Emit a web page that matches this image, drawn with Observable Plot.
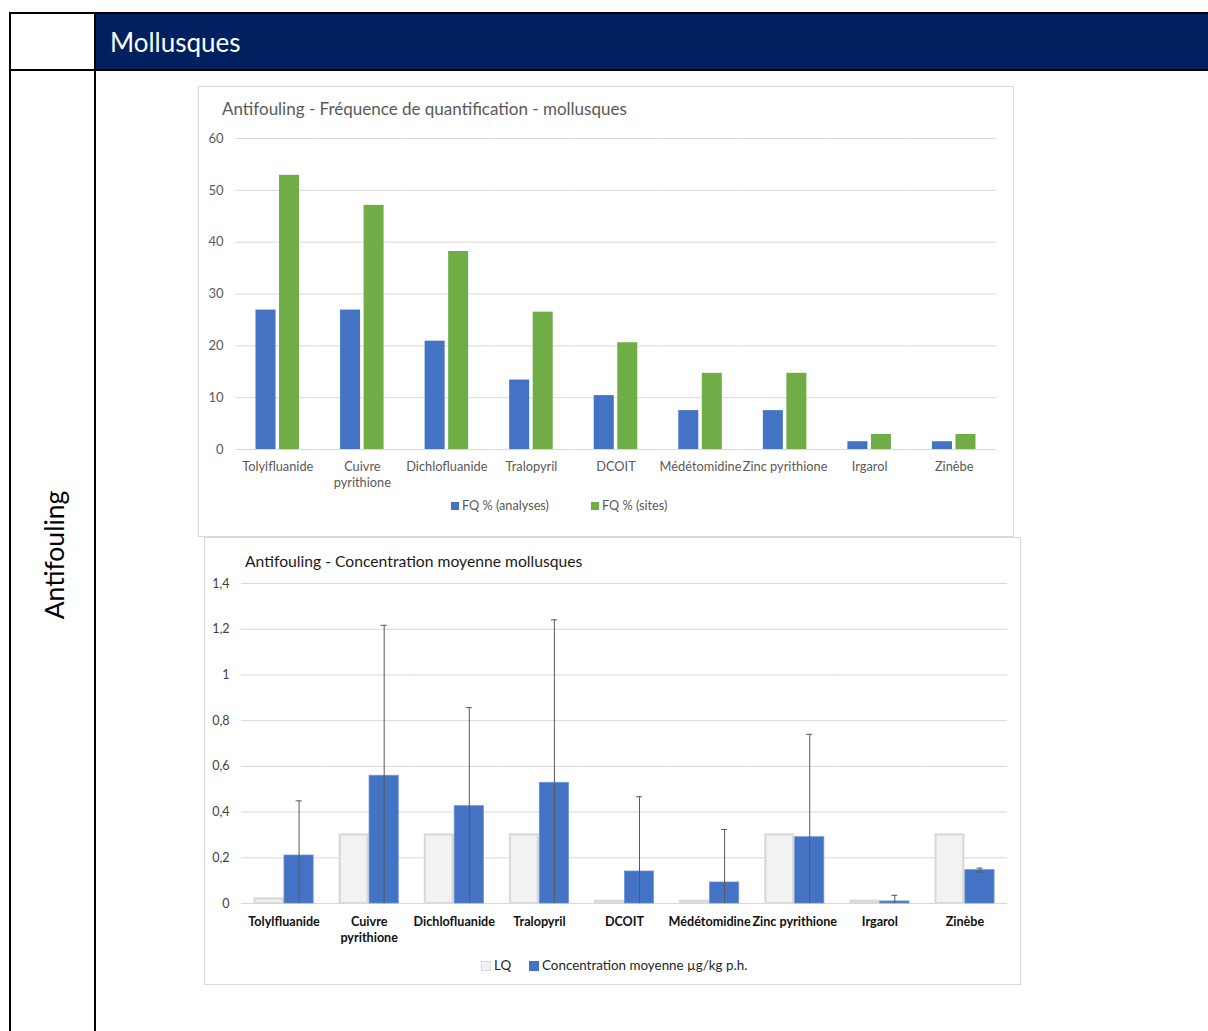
<!DOCTYPE html>
<html>
<head>
<meta charset="utf-8">
<script src="https://cdn.jsdelivr.net/npm/d3@7"></script>
<script src="https://cdn.jsdelivr.net/npm/@observablehq/plot@0.6"></script>
<style>
  html, body { margin: 0; padding: 0; background: #fff; }
  body { width: 1208px; height: 1031px; position: relative; overflow: hidden; font-family: Lato, "Open Sans", sans-serif; }
  .abs { position: absolute; }
  .line { position: absolute; background: #000; }
  .box { position: absolute; border: 1px solid #d9d9d9; box-sizing: border-box; background: #fff; }
  .title1 { position: absolute; left: 222px; top: 98px; font-size: 17px; color: #595959; white-space: nowrap; }
  .title2 { position: absolute; left: 245px; top: 552px; font-size: 15.7px; color: #1a1a1a; white-space: nowrap; }
  .leg { position: absolute; font-size: 12.7px; white-space: nowrap; line-height: 14px; }
  .sw { display: inline-block; width: 8px; height: 8px; margin-right: 3px; vertical-align: 0px; box-sizing: border-box; }
  svg { overflow: visible; }
</style>
</head>
<body>
<!-- table structure -->
<div class="abs" style="left:96px;top:14px;width:1112px;height:55px;background:#002060;"></div>
<div class="line" style="left:9px;top:12px;width:1199px;height:2px;"></div>
<div class="line" style="left:9px;top:69px;width:1199px;height:2px;"></div>
<div class="line" style="left:9px;top:12px;width:2px;height:1019px;"></div>
<div class="line" style="left:94px;top:12px;width:2px;height:1019px;"></div>
<div class="abs" style="left:110px;top:27px;font-size:26px;color:#fff;white-space:nowrap;line-height:30px;">Mollusques</div>
<div class="abs" style="left:54px;top:555px;font-size:26.5px;color:#000;white-space:nowrap;transform:translate(-50%,-50%) rotate(-90deg);line-height:30px;">Antifouling</div>

<div class="box" style="left:198px;top:86px;width:816px;height:451px;"></div>
<div class="box" style="left:204px;top:537px;width:817px;height:448px;"></div>

<div class="title1">Antifouling - Fréquence de quantification - mollusques</div>
<div class="title2">Antifouling - Concentration moyenne mollusques</div>

<div id="chart1" class="abs" style="left:198px;top:120px;"></div>
<div id="chart2" class="abs" style="left:204px;top:570px;"></div>

<div class="leg" style="left:451px;top:498px;color:#595959;"><span class="sw" style="background:#4472c4"></span>FQ % (analyses)</div>
<div class="leg" style="left:591px;top:498px;color:#595959;"><span class="sw" style="background:#70ad47"></span>FQ % (sites)</div>

<div class="leg" style="left:481px;top:958px;color:#262626;font-size:13.4px;"><span class="sw" style="width:10px;height:10px;background:#f2f2f2;border:1.5px solid #d9d9d9;vertical-align:-1px"></span>LQ</div>
<div class="leg" style="left:529px;top:958px;color:#262626;font-size:13.4px;"><span class="sw" style="width:10px;height:10px;background:#4472c4;vertical-align:-1px"></span>Concentration moyenne µg/kg p.h.</div>

<script>
// ---------- data ----------
const categories = ["Tolylfluanide", "Cuivre pyrithione", "Dichlofluanide", "Tralopyril", "DCOIT", "Médétomidine", "Zinc pyrithione", "Irgarol", "Zinèbe"];

// Chart 1: fréquence de quantification (%)
const series1 = ["FQ % (analyses)", "FQ % (sites)"];
const fqAnalyses = [26.9, 26.9, 20.9, 13.4, 10.4, 7.5, 7.5, 1.5, 1.5];
const fqSites    = [52.9, 47.1, 38.2, 26.5, 20.6, 14.7, 14.7, 2.9, 2.9];
const yTicks1 = [0, 10, 20, 30, 40, 50, 60];

// Chart 2: concentration moyenne (µg/kg p.h.)
const series2 = ["LQ", "Concentration moyenne µg/kg p.h."];
const lq        = [0.02, 0.3, 0.3, 0.3, 0.01, 0.01, 0.3, 0.01, 0.3];
const concMean  = [0.21, 0.559, 0.426, 0.528, 0.14, 0.092, 0.29, 0.009, 0.146];
const concSd    = [0.239, 0.658, 0.431, 0.713, 0.327, 0.232, 0.45, 0.027, 0.009];
const yTicks2 = [0, 0.2, 0.4, 0.6, 0.8, 1, 1.2, 1.4];

const wrapLabel = d => d === "Cuivre pyrithione" ? "Cuivre\npyrithione" : d;

// ---------- chart 1 ----------
const rows1 = categories.flatMap((c, i) => [
  {cat: c, serie: series1[0], value: fqAnalyses[i]},
  {cat: c, serie: series1[1], value: fqSites[i]}
]);

const chart1 = Plot.plot({
  width: 815, height: 370,
  marginLeft: 37, marginRight: 17, marginTop: 18, marginBottom: 41,
  style: {fontFamily: "Lato, sans-serif", fontSize: "12.8px", color: "#595959", background: "transparent"},
  fx: {domain: categories, padding: 0, round: false, label: null, axis: null},
  x: {domain: series1, paddingInner: 3.5 / 23.5, paddingOuter: 20.5 / 23.5, round: false, axis: null},
  y: {domain: [0, 60], axis: null},
  color: {domain: series1, range: ["#4472c4", "#70ad47"]},
  marks: [
    Plot.ruleY(yTicks1, {stroke: "#d9d9d9", strokeWidth: 1}),
    Plot.barY(rows1, {fx: "cat", x: "serie", y: "value", fill: "serie"}),
    Plot.axisY({ticks: yTicks1, tickSize: 0, tickPadding: 12, label: null, fill: "#595959", fontSize: 13}),
    Plot.axisFx({anchor: "bottom", tickSize: 0, tickPadding: 9.5, label: null, tickFormat: wrapLabel, fill: "#595959", fontSize: 12.8, lineHeight: 1.3})
  ]
});
document.getElementById("chart1").appendChild(chart1);

// ---------- chart 2 ----------
const rows2 = categories.flatMap((c, i) => [
  {cat: c, serie: series2[0], value: lq[i]},
  {cat: c, serie: series2[1], value: concMean[i]}
]);
const err2 = categories.map((c, i) => ({cat: c, serie: series2[1], mean: concMean[i], sd: concSd[i]}));

const chart2 = Plot.plot({
  width: 816, height: 375,
  marginLeft: 37, marginRight: 13, marginTop: 13, marginBottom: 42,
  style: {fontFamily: "Lato, sans-serif", fontSize: "12.5px", color: "#404040", background: "transparent"},
  fx: {domain: categories, padding: 0, round: false, label: null, axis: null},
  x: {domain: series2, paddingInner: 0, paddingOuter: 0.418, round: false, axis: null},
  y: {domain: [0, 1.4], axis: null},
  marks: [
    Plot.ruleY(yTicks2, {stroke: "#d9d9d9", strokeWidth: 1}),
    Plot.barY(rows2.filter(d => d.serie === series2[0]), {fx: "cat", x: "serie", y: "value", fill: "#f2f2f2", stroke: "#d9d9d9", strokeWidth: 2.2, insetLeft: 1.1, insetRight: 1.1}),
    Plot.barY(rows2.filter(d => d.serie === series2[1]), {fx: "cat", x: "serie", y: "value", fill: "#4472c4", stroke: "#6f94d6", strokeWidth: 0.8, insetLeft: 0.4, insetRight: 0.4}),
    Plot.ruleX(err2, {fx: "cat", x: "serie", y1: d => Math.max(0, d.mean - d.sd), y2: d => d.mean + d.sd, stroke: "#595959", strokeWidth: 1}),
    Plot.tickY(err2, {fx: "cat", x: "serie", y: d => d.mean + d.sd, stroke: "#595959", strokeWidth: 1, insetLeft: 12, insetRight: 12}),
    Plot.tickY(err2.filter(d => d.mean - d.sd > 0), {fx: "cat", x: "serie", y: d => d.mean - d.sd, stroke: "#595959", strokeWidth: 1, insetLeft: 12, insetRight: 12}),
    Plot.axisY({ticks: yTicks2, tickSize: 0, tickPadding: 12, label: null, tickFormat: d => String(d).replace(".", ","), fill: "#404040", fontSize: 12.5}),
    Plot.axisFx({anchor: "bottom", tickSize: 0, tickPadding: 10.5, label: null, tickFormat: wrapLabel, fill: "#111", fontSize: 12.6, fontWeight: "bold", lineHeight: 1.3})
  ]
});
document.getElementById("chart2").appendChild(chart2);
</script>
</body>
</html>
